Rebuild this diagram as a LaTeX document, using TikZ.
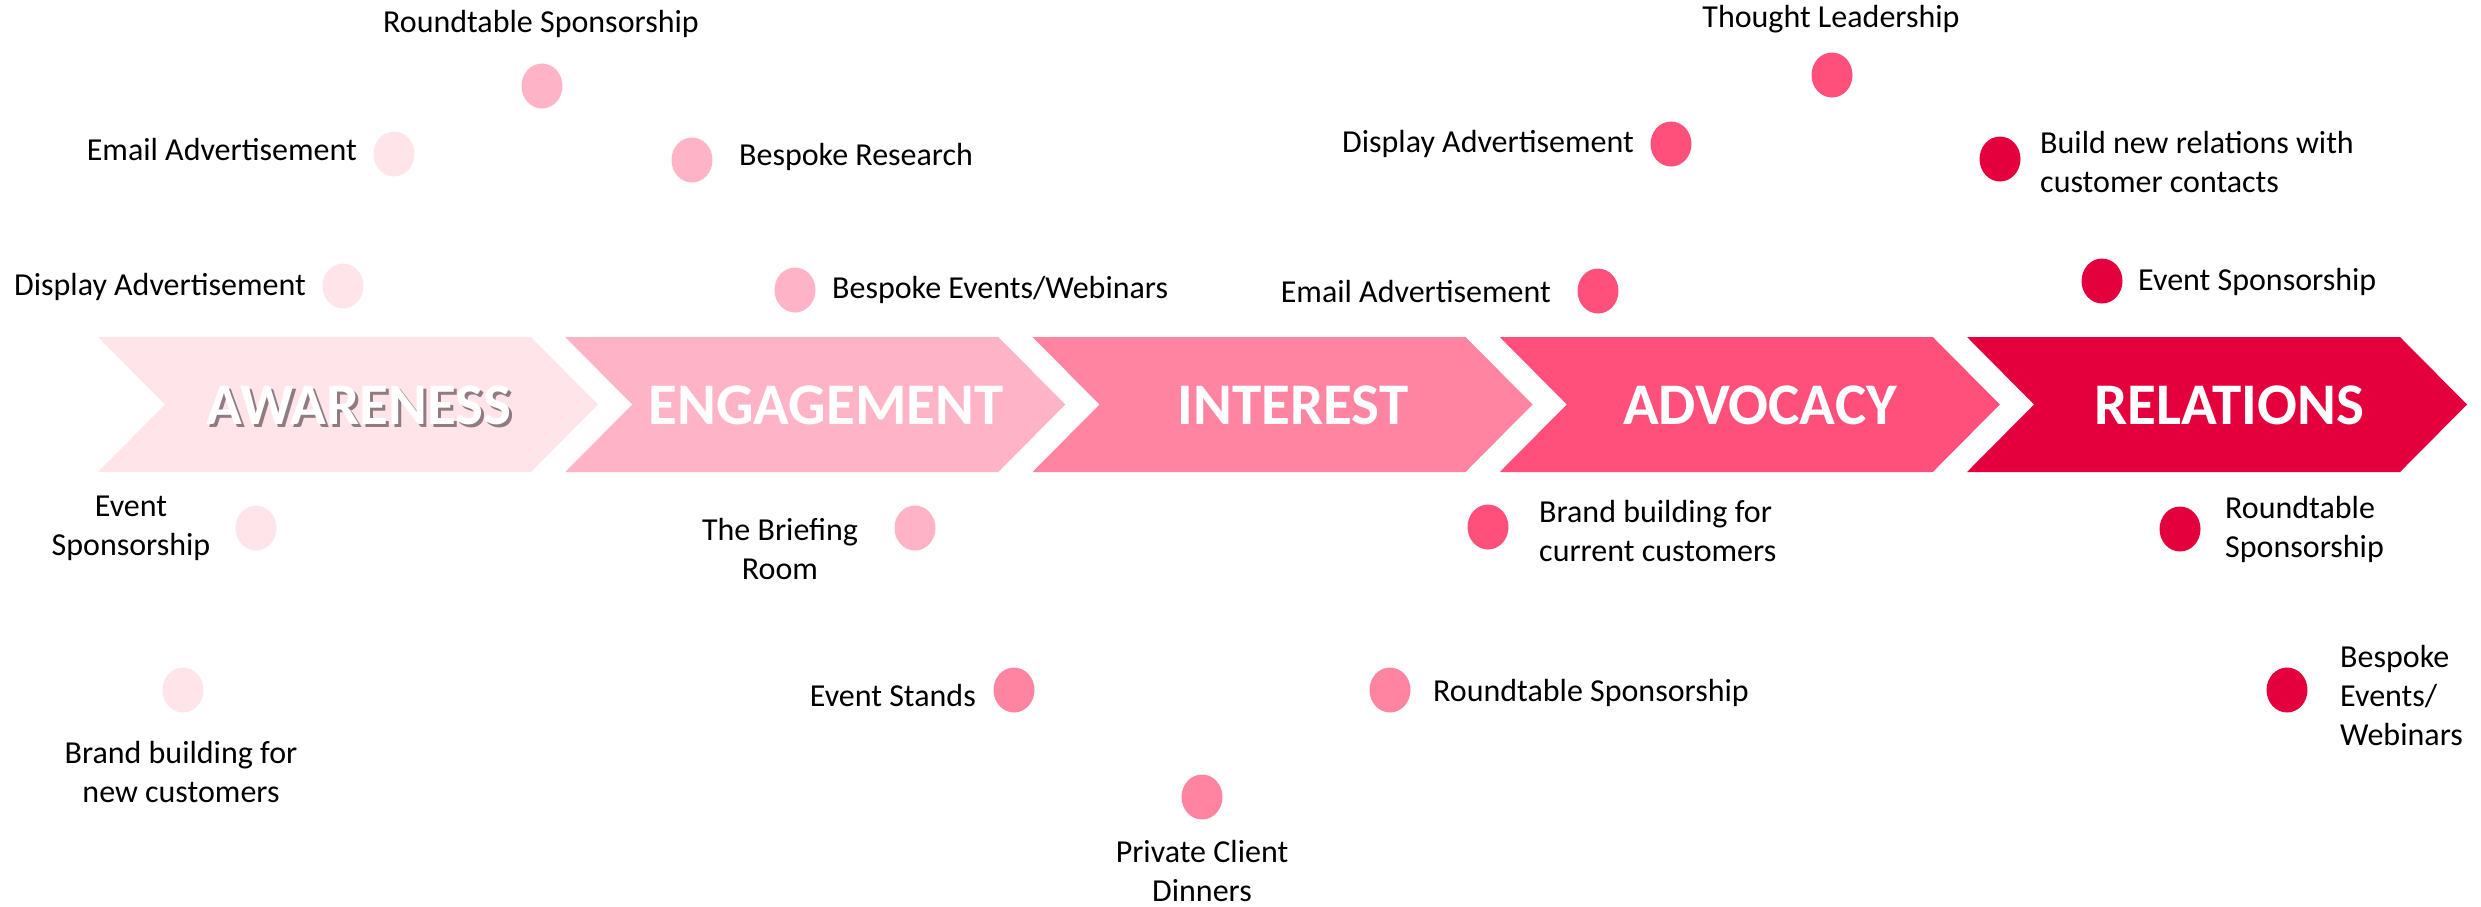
\documentclass[tikz,border=0pt]{standalone}
\usepackage{fontspec}
\setmainfont{Carlito}
\usetikzlibrary{shapes.geometric}
\definecolor{cA}{HTML}{FFE4EA}
\definecolor{cB}{HTML}{FFB3C6}
\definecolor{cC}{HTML}{FF84A1}
\definecolor{cD}{HTML}{FF4F7B}
\definecolor{cE}{HTML}{E3003C}
\definecolor{shadowc}{RGB}{125,105,110}
\tikzset{
  dot/.style={ellipse, fill=#1, draw=none, minimum width=41, minimum height=45, inner sep=0pt},
  lbl/.style={font=\fontsize{32}{39}\selectfont, inner sep=0pt, text=black},
  stage/.style={font=\fontsize{59}{60}\selectfont\bfseries, inner sep=0pt, text=white},
}
\begin{document}
\begin{tikzpicture}[x=1pt,y=-1pt]
\useasboundingbox (0,0) rectangle (2481,906);
% chevrons
\foreach \L/\c in {98/cA,565.25/cB,1032.5/cC,1499.75/cD,1967/cE}{
  \fill[\c] (\L,337) -- (\L+433,337) -- (\L+500,404.5) -- (\L+433,472) -- (\L,472) -- (\L+67,404.5) -- cycle;
}
\node[stage, text=shadowc, opacity=0.85] at (362,408) {AWARENESS};
\node[stage] (s1) at (359,405) {AWARENESS};
\node[stage] (s2) at (826,405) {ENGAGEMENT};
\node[stage] (s3) at (1293,405) {INTEREST};
\node[stage] (s4) at (1760,405) {ADVOCACY};
\node[stage] (s5) at (2229,405) {RELATIONS};

% Awareness
\node[dot=cA] (a1) at (394,154) {};
\node[lbl, anchor=east] (a1l) at (357,150) {Email Advertisement};
\node[dot=cA] (a2) at (343,286) {};
\node[lbl, anchor=east] (a2l) at (306,287) {Display Advertisement};
\node[dot=cA] (a3) at (256,528) {};
\node[lbl, align=center] (a3l) at (131,528) {Event\\Sponsorship};
\node[dot=cA] (a4) at (183,690) {};
\node[lbl, align=center] (a4l) at (181,772) {Brand building for\\new customers};

% Engagement
\node[dot=cB] (b1) at (542,86) {};
\node[lbl] (b1l) at (541,24) {Roundtable Sponsorship};
\node[dot=cB] (b2) at (692,160) {};
\node[lbl, anchor=west] (b2l) at (739,157) {Bespoke Research};
\node[dot=cB] (b3) at (795,290) {};
\node[lbl, anchor=west] (b3l) at (832,290) {Bespoke Events/Webinars};
\node[dot=cB] (b4) at (915,528) {};
\node[lbl, align=center] (b4l) at (780,549) {The Briefing\\Room};

% Interest
\node[dot=cC] (c1) at (1014,690) {};
\node[lbl, anchor=east] (c1l) at (976,695) {Event Stands};
\node[dot=cC] (c2) at (1202,797) {};
\node[lbl, align=center] (c2l) at (1202,871) {Private Client\\Dinners};
\node[dot=cC] (c3) at (1390,690) {};
\node[lbl, anchor=west] (c3l) at (1433,693) {Roundtable Sponsorship};

% Advocacy
\node[dot=cD] (d1) at (1832,75) {};
\node[lbl] (d1l) at (1831,19) {Thought Leadership};
\node[dot=cD] (d2) at (1671,144) {};
\node[lbl, anchor=east] (d2l) at (1634,144) {Display Advertisement};
\node[dot=cD] (d3) at (1598,291) {};
\node[lbl, anchor=east] (d3l) at (1551,291) {Email Advertisement};
\node[dot=cD] (d4) at (1488,527) {};
\node[lbl, anchor=west, align=left] (d4l) at (1539,531) {Brand building for\\current customers};

% Relations
\node[dot=cE] (e1) at (2000,159) {};
\node[lbl, anchor=west, align=left] (e1l) at (2040,162) {Build new relations with\\customer contacts};
\node[dot=cE] (e2) at (2102,281) {};
\node[lbl, anchor=west] (e2l) at (2138,282) {Event Sponsorship};
\node[dot=cE] (e3) at (2180,529) {};
\node[lbl, anchor=west, align=left] (e3l) at (2225,529) {Roundtable\\Sponsorship};
\node[dot=cE] (e4) at (2287,690) {};
\node[lbl, anchor=west, align=left] (e4l) at (2340,695) {Bespoke\\Events/\\Webinars};
\end{tikzpicture}
\end{document}
